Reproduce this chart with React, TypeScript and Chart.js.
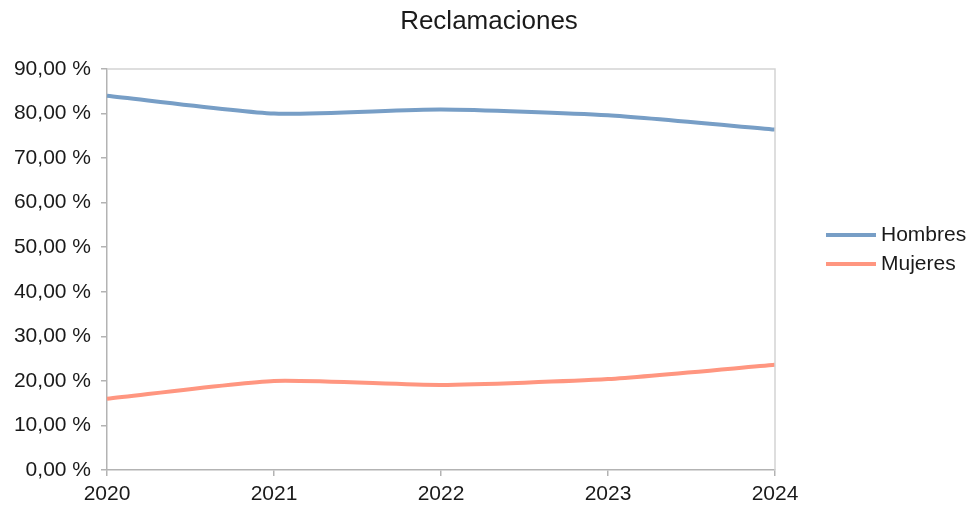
import React, { useEffect, useRef } from "react";
import { Chart, registerables } from "chart.js";

Chart.register(...registerables);

const title = "Reclamaciones";
const categories = ["2020", "2021", "2022", "2023", "2024"];
const hombres = [84.0, 80.0, 80.9, 79.6, 76.4];
const mujeres = [16.0, 20.0, 19.1, 20.4, 23.6];
const seriesNames = ["Hombres", "Mujeres"];
const seriesColors = ["#779ec6", "#ff9680"];

const FONT = "'Liberation Sans', Arial, sans-serif";

const framePlugin = {
  id: "frame",
  afterDatasetsDraw(chart: any) {
    const { ctx, chartArea } = chart;
    ctx.save();
    ctx.strokeStyle = "#d4d4d4";
    ctx.lineWidth = 1.5;
    ctx.beginPath();
    ctx.moveTo(chartArea.left, chartArea.top);
    ctx.lineTo(chartArea.right, chartArea.top);
    ctx.lineTo(chartArea.right, chartArea.bottom);
    ctx.stroke();
    ctx.restore();
  },
  afterDraw(chart: any) {
    const { ctx } = chart;
    ctx.save();
    ctx.fillStyle = "#1a1a1a";
    ctx.font = `26px ${FONT}`;
    ctx.textAlign = "center";
    ctx.textBaseline = "middle";
    ctx.fillText(title, 489, 22);
    ctx.font = `21px ${FONT}`;
    ctx.textAlign = "left";
    chart.data.datasets.forEach((ds: any, i: number) => {
      const y = 235 + i * 29;
      ctx.strokeStyle = ds.borderColor;
      ctx.lineWidth = 4;
      ctx.beginPath();
      ctx.moveTo(826, y);
      ctx.lineTo(876, y);
      ctx.stroke();
      ctx.fillStyle = "#1a1a1a";
      ctx.fillText(ds.label, 881, y);
    });
    ctx.restore();
  },
};

export default function App() {
  const ref = useRef<HTMLCanvasElement>(null);
  useEffect(() => {
    document.body.style.margin = "0";
    const chart = new Chart(ref.current!, {
      type: "line",
      data: {
        labels: categories,
        datasets: [
          { label: seriesNames[0], data: hombres, borderColor: seriesColors[0], backgroundColor: seriesColors[0], borderWidth: 4, pointRadius: 0, tension: 0.2, borderJoinStyle: "round" },
          { label: seriesNames[1], data: mujeres, borderColor: seriesColors[1], backgroundColor: seriesColors[1], borderWidth: 4, pointRadius: 0, tension: 0.2, borderJoinStyle: "round" },
        ],
      },
      options: {
        animation: false,
        responsive: false,
        layout: { padding: { left: 0, top: 69, right: 196, bottom: 0 } },
        plugins: { legend: { display: false }, title: { display: false }, tooltip: { enabled: false } },
        scales: {
          x: {
            offset: false,
            afterFit: (s: any) => { s.height = 41; },
            grid: { drawOnChartArea: false, drawTicks: true, tickLength: 6, color: "#b3b3b3", lineWidth: 1.5 },
            border: { color: "#b3b3b3", width: 1.5 },
            ticks: { color: "#1a1a1a", font: { family: FONT, size: 21 }, padding: 6, maxRotation: 0, autoSkip: false },
          },
          y: {
            min: 0,
            max: 90,
            afterFit: (s: any) => { s.width = 107; },
            grid: { drawOnChartArea: false, drawTicks: true, tickLength: 6, color: "#b3b3b3", lineWidth: 1.5 },
            border: { color: "#b3b3b3", width: 1.5 },
            ticks: {
              stepSize: 10,
              color: "#1a1a1a",
              font: { family: FONT, size: 21 },
              padding: 10,
              callback: (v: any) => `${Number(v).toFixed(2).replace(".", ",")} %`,
            },
          },
        },
      },
      plugins: [framePlugin],
    });
    return () => chart.destroy();
  }, []);
  return (
    <div style={{ width: 971, height: 511 }}>
      <canvas ref={ref} width={971} height={511} style={{ display: "block" }} />
    </div>
  );
}
